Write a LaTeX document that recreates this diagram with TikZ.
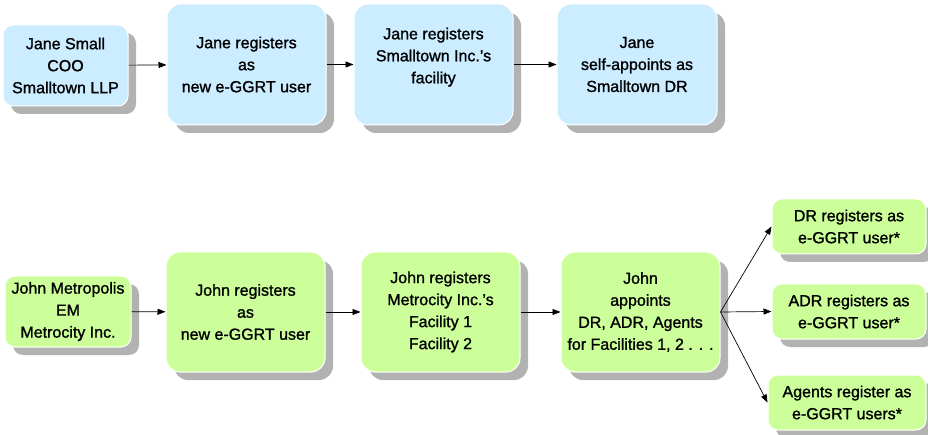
\documentclass[tikz,border=0pt]{standalone}
\usepackage{fontspec}
\setmainfont{Liberation Sans}
\newfontfamily\boxfont[FakeBold=1.2]{Liberation Sans}
\usetikzlibrary{shadows,arrows.meta}
\definecolor{boxblue}{RGB}{204,236,255}
\definecolor{boxgreen}{RGB}{204,255,153}
\definecolor{shadowgray}{RGB}{178,178,178}
\tikzset{
  box/.style={draw=white, line width=1pt, rounded corners=14pt, align=center,
    inner sep=0pt, font=\boxfont\fontsize{16}{22}\selectfont,
    drop shadow={shadow xshift=8pt, shadow yshift=-8pt, fill=shadowgray, opacity=1}},
  bluebox/.style={box, fill=boxblue},
  greenbox/.style={box, fill=boxgreen},
  smallr/.style={rounded corners=10pt},
  arr/.style={-{Triangle[length=8pt,width=6pt]}, line width=0.7pt, black}
}
\begin{document}
\begin{tikzpicture}[x=1pt,y=-1pt]
\useasboundingbox (0,0) rectangle (928,435);
% top row
\node[bluebox, smallr, minimum width=125pt, minimum height=81pt] (b1) at (65.5,65.5) {Jane Small\\COO\\Smalltown LLP};
\node[bluebox, minimum width=159pt, minimum height=121pt] (b2) at (246.5,64.5) {Jane registers\\as\\new e-GGRT user};
\node[bluebox, minimum width=159pt, minimum height=121pt] (b3) at (433.5,64.5) {Jane registers\\Smalltown Inc.’s\\facility\\[-4pt]\mbox{}};
\node[bluebox, minimum width=160pt, minimum height=121pt] (b4) at (637,64.5) {Jane\\self-appoints as\\Smalltown DR};
% bottom row
\node[greenbox, smallr, minimum width=126pt, minimum height=71pt] (b5) at (68,311.5) {John Metropolis\\EM\\Metrocity Inc.};
\node[greenbox, minimum width=159pt, minimum height=120pt] (b6) at (245.5,312) {John registers\\as\\new e-GGRT user};
\node[greenbox, minimum width=159pt, minimum height=120pt] (b7) at (440.5,312) {John registers\\Metrocity Inc.’s\\Facility 1\\Facility 2};
\node[greenbox, minimum width=159pt, minimum height=120pt] (b8) at (640.5,312) {John\\appoints\\DR, ADR, Agents\\for Facilities 1, 2 . . .};
\node[greenbox, smallr, minimum width=154pt, minimum height=55pt] (b9) at (849,226.5) {DR registers as\\e-GGRT user*};
\node[greenbox, smallr, minimum width=154pt, minimum height=55pt] (b10) at (849,311.5) {ADR registers as\\e-GGRT user*};
\node[greenbox, smallr, minimum width=158pt, minimum height=55pt] (b11) at (847,402.5) {Agents register as\\e-GGRT users*};
% connectors
\draw[arr] (b1) -- (b2);
\draw[arr] (b2) -- (b3);
\draw[arr] (b3) -- (b4);
\draw[arr] (b5) -- (b6);
\draw[arr] (b6) -- (b7);
\draw[arr] (b7) -- (b8);
\draw[arr] (b8.east) -- (b9.west);
\draw[arr] (b8.east) -- (b10.west);
\draw[arr] (b8.east) -- (b11.west);
\end{tikzpicture}
\end{document}
